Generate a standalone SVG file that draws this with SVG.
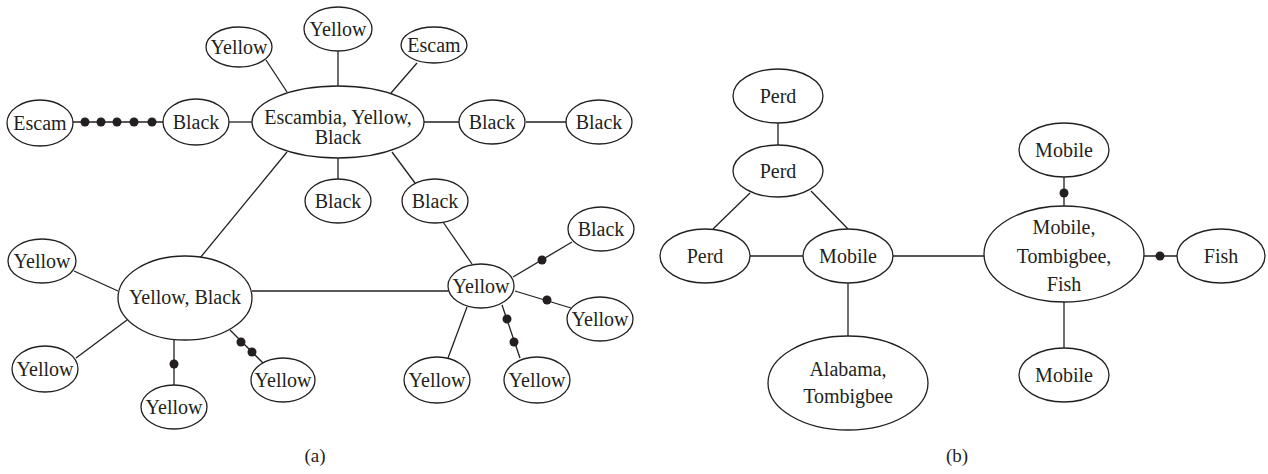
<svg xmlns="http://www.w3.org/2000/svg" width="1268" height="474" viewBox="0 0 1268 474">
<style>
.n ellipse{fill:#fff;stroke:#231f20;stroke-width:1.3}
.n text{font-family:"Liberation Serif","Times New Roman",serif;font-size:20px;fill:#231f20;text-anchor:middle}
#edges line{stroke:#231f20;stroke-width:1.3}
#edges circle{fill:#231f20}
.cap{font-family:"Liberation Serif","Times New Roman",serif;font-size:19px;fill:#231f20;text-anchor:middle}
</style>
<rect width="1268" height="474" fill="#fff"/>
<g id="edges">
<line x1="73" y1="122" x2="163" y2="122"/>
<circle cx="85" cy="122" r="4.5"/><circle cx="101" cy="122" r="4.5"/><circle cx="117" cy="122" r="4.5"/><circle cx="134" cy="122" r="4.5"/><circle cx="152" cy="122" r="4.5"/>
<line x1="229" y1="122" x2="252" y2="122"/>
<line x1="266" y1="60" x2="287" y2="92"/>
<line x1="338" y1="51" x2="338" y2="86"/>
<line x1="417" y1="63" x2="391" y2="93"/>
<line x1="424" y1="122" x2="459" y2="122"/>
<line x1="526" y1="122" x2="566" y2="122"/>
<line x1="338" y1="158" x2="338" y2="179"/>
<line x1="392" y1="152" x2="415" y2="183"/>
<line x1="287" y1="152" x2="200" y2="258"/>
<line x1="443" y1="222" x2="472" y2="264"/>
<line x1="252" y1="291" x2="448" y2="291"/>
<line x1="74" y1="271" x2="118" y2="291"/>
<line x1="127" y1="320" x2="76" y2="358"/>
<line x1="174" y1="340" x2="174" y2="385"/><circle cx="174" cy="364" r="4.5"/>
<line x1="230" y1="330" x2="263" y2="363"/><circle cx="241" cy="342" r="4.5"/><circle cx="252" cy="352" r="4.5"/>
<line x1="513" y1="277" x2="572" y2="242"/><circle cx="542" cy="260" r="4.5"/>
<line x1="515" y1="291" x2="571" y2="308"/><circle cx="547" cy="300" r="4.5"/>
<line x1="502" y1="305" x2="520" y2="358"/><circle cx="507" cy="319" r="4.5"/><circle cx="514" cy="342" r="4.5"/>
<line x1="467" y1="307" x2="448" y2="358"/>
<line x1="778" y1="123" x2="778" y2="145"/>
<line x1="750" y1="193" x2="713" y2="229"/>
<line x1="811" y1="191" x2="848" y2="229"/>
<line x1="750" y1="256" x2="803" y2="256"/>
<line x1="893" y1="256" x2="985" y2="256"/>
<line x1="848" y1="283" x2="848" y2="336"/>
<line x1="1064" y1="177" x2="1064" y2="206"/><circle cx="1064" cy="193" r="4.5"/>
<line x1="1144" y1="256" x2="1177" y2="256"/><circle cx="1160" cy="256" r="4.5"/>
<line x1="1064" y1="302" x2="1064" y2="348"/>
</g>
<g id="a-escambia" class="n"><ellipse cx="338" cy="122" rx="86" ry="36"/><text x="338" y="124">Escambia, Yellow,</text><text x="338" y="144">Black</text></g>
<g id="a-yellow-tl" class="n"><ellipse cx="239" cy="47" rx="33" ry="20"/><text x="239" y="54">Yellow</text></g>
<g id="a-yellow-top" class="n"><ellipse cx="338" cy="29" rx="34" ry="22"/><text x="338" y="36">Yellow</text></g>
<g id="a-escam-tr" class="n"><ellipse cx="434" cy="45" rx="33" ry="18"/><text x="434" y="52">Escam</text></g>
<g id="a-escam-l" class="n"><ellipse cx="40" cy="123" rx="33" ry="23"/><text x="40" y="130">Escam</text></g>
<g id="a-black-l" class="n"><ellipse cx="196" cy="122" rx="33" ry="23"/><text x="196" y="129">Black</text></g>
<g id="a-black-r1" class="n"><ellipse cx="492" cy="122" rx="33" ry="22"/><text x="492" y="129">Black</text></g>
<g id="a-black-r2" class="n"><ellipse cx="599" cy="122" rx="33" ry="22"/><text x="599" y="129">Black</text></g>
<g id="a-black-b" class="n"><ellipse cx="338" cy="201" rx="33" ry="22"/><text x="338" y="208">Black</text></g>
<g id="a-black-br" class="n"><ellipse cx="435" cy="201" rx="33" ry="22"/><text x="435" y="208">Black</text></g>
<g id="a-black-far" class="n"><ellipse cx="601" cy="229" rx="33" ry="22"/><text x="601" y="236">Black</text></g>
<g id="a-yellow-black" class="n"><ellipse cx="185" cy="298" rx="67" ry="42"/><text x="185" y="304">Yellow, Black</text></g>
<g id="a-yellow-l1" class="n"><ellipse cx="42" cy="261" rx="34" ry="22"/><text x="42" y="268">Yellow</text></g>
<g id="a-yellow-l2" class="n"><ellipse cx="45" cy="369" rx="33" ry="23"/><text x="45" y="376">Yellow</text></g>
<g id="a-yellow-b" class="n"><ellipse cx="174" cy="407" rx="33" ry="22"/><text x="174" y="414">Yellow</text></g>
<g id="a-yellow-r" class="n"><ellipse cx="283" cy="380" rx="32" ry="22"/><text x="283" y="387">Yellow</text></g>
<g id="a-yellow-hub" class="n"><ellipse cx="481" cy="286" rx="33" ry="22"/><text x="481" y="293">Yellow</text></g>
<g id="a-yellow-hr" class="n"><ellipse cx="600" cy="319" rx="33" ry="22"/><text x="600" y="326">Yellow</text></g>
<g id="a-yellow-hbr" class="n"><ellipse cx="537" cy="380" rx="33" ry="23"/><text x="537" y="387">Yellow</text></g>
<g id="a-yellow-hbm" class="n"><ellipse cx="437" cy="380" rx="33" ry="23"/><text x="437" y="387">Yellow</text></g>
<g id="b-perd-top" class="n"><ellipse cx="778" cy="96" rx="45" ry="27"/><text x="778" y="103">Perd</text></g>
<g id="b-perd-mid" class="n"><ellipse cx="778" cy="171" rx="45" ry="26"/><text x="778" y="178">Perd</text></g>
<g id="b-perd-left" class="n"><ellipse cx="705" cy="256" rx="45" ry="27"/><text x="705" y="263">Perd</text></g>
<g id="b-mobile" class="n"><ellipse cx="848" cy="256" rx="45" ry="27"/><text x="848" y="263">Mobile</text></g>
<g id="b-alabama" class="n"><ellipse cx="848" cy="383" rx="80" ry="47"/><text x="848" y="376">Alabama,</text><text x="848" y="403">Tombigbee</text></g>
<g id="b-mobile-top" class="n"><ellipse cx="1064" cy="150" rx="45" ry="27"/><text x="1064" y="157">Mobile</text></g>
<g id="b-mtf" class="n"><ellipse cx="1064" cy="254" rx="80" ry="48"/><text x="1064" y="234">Mobile,</text><text x="1064" y="263">Tombigbee,</text><text x="1064" y="291">Fish</text></g>
<g id="b-fish" class="n"><ellipse cx="1221" cy="256" rx="44" ry="27"/><text x="1221" y="263">Fish</text></g>
<g id="b-mobile-bottom" class="n"><ellipse cx="1064" cy="375" rx="45" ry="27"/><text x="1064" y="382">Mobile</text></g>
<text class="cap" x="315" y="462">(a)</text>
<text class="cap" x="957" y="462">(b)</text>
</svg>
